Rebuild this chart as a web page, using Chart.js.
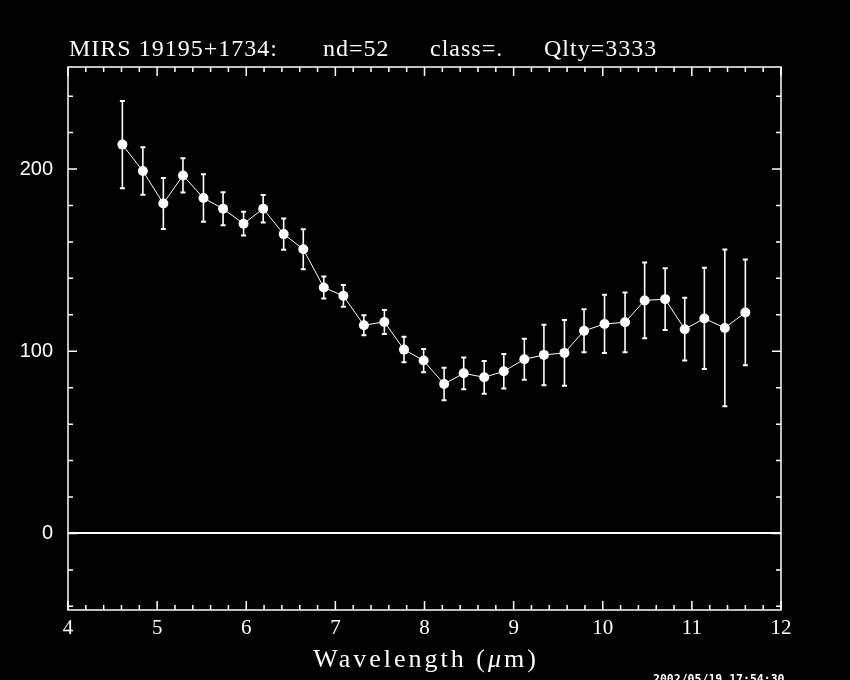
<!DOCTYPE html>
<html><head><meta charset="utf-8">
<script src="https://cdn.jsdelivr.net/npm/chart.js@4.4.1/dist/chart.umd.min.js"></script>
<style>html,body{margin:0;padding:0;background:#000;}canvas{display:block;}</style>
</head><body>
<canvas id="c" width="850" height="680"></canvas>
<script>
const wavelength = [4.61, 4.84, 5.07, 5.29, 5.52, 5.74, 5.97, 6.19, 6.42, 6.64, 6.87, 7.09, 7.32, 7.55, 7.77, 7.99,
                    8.22, 8.44, 8.67, 8.89, 9.12, 9.34, 9.57, 9.79, 10.02, 10.25, 10.47, 10.70, 10.92, 11.14, 11.37, 11.60];
const flux = [213.4, 198.9, 181.1, 196.5, 184.1, 178.2, 170.0, 178.2, 164.3, 156.0, 135.0, 130.4, 114.3, 116.1, 100.9, 94.9,
              82.0, 87.9, 85.7, 89.0, 95.6, 98.0, 99.1, 111.2, 115.0, 115.9, 127.9, 128.6, 112.1, 118.0, 112.8, 121.3];
const fluxErr = [24.0, 13.0, 14.0, 9.4, 13.0, 9.0, 6.5, 7.5, 8.6, 11.0, 6.0, 6.0, 5.5, 6.6, 7.0, 6.4,
                 8.9, 8.7, 9.0, 9.5, 11.3, 16.6, 18.0, 11.8, 16.0, 16.4, 20.8, 16.9, 17.2, 27.8, 43.0, 29.0];
const xTickLabels = [4, 5, 6, 7, 8, 9, 10, 11, 12];
const yTickLabels = [0, 100, 200];
const titleParts = ["MIRS 19195+1734:", "nd=52", "class=.", "Qlty=3333"];
const xTitle = ["Wavelength (", "\u03bc", "m)"];
const stamp = "2002/05/19 17:54:30";

const X_MIN = 4, X_MAX = 12, Y_MIN = -42, Y_MAX = 256;

const deco = {
  id: 'deco',
  beforeDraw(chart) {
    const c = chart.ctx;
    c.save(); c.fillStyle = '#000'; c.fillRect(0, 0, chart.width, chart.height); c.restore();
  },
  beforeDatasetsDraw(chart) {
    const c = chart.ctx, xs = chart.scales.x, ys = chart.scales.y;
    c.save();
    c.strokeStyle = '#fff';
    for (let i = 0; i < wavelength.length; i++) {
      const px = xs.getPixelForValue(wavelength[i]);
      const top = ys.getPixelForValue(flux[i] + fluxErr[i]);
      const bot = ys.getPixelForValue(flux[i] - fluxErr[i]);
      c.lineWidth = 1.6;
      c.beginPath(); c.moveTo(px, top); c.lineTo(px, bot); c.stroke();
      c.lineWidth = 2;
      c.beginPath();
      c.moveTo(px - 2.5, top); c.lineTo(px + 2.5, top);
      c.moveTo(px - 2.5, bot); c.lineTo(px + 2.5, bot);
      c.stroke();
    }
    c.restore();
  },
  afterDraw(chart) {
    const c = chart.ctx, a = chart.chartArea, xs = chart.scales.x, ys = chart.scales.y;
    c.save();
    c.strokeStyle = '#fff';
    c.lineWidth = 1.5;
    c.strokeRect(a.left, a.top, a.right - a.left, a.bottom - a.top);
    // inward ticks on all four sides
    c.beginPath();
    for (let k = 0; k <= Math.round((X_MAX - X_MIN) / 0.2); k++) {
      const v = X_MIN + k * 0.2;
      const major = Math.abs(v - Math.round(v)) < 1e-6;
      const L = major ? 9 : 5;
      const px = xs.getPixelForValue(v);
      c.moveTo(px, a.bottom); c.lineTo(px, a.bottom - L);
      c.moveTo(px, a.top); c.lineTo(px, a.top + L);
    }
    for (let v = -40; v <= Y_MAX; v += 20) {
      const major = v % 100 === 0;
      const L = major ? 9 : 5;
      const py = ys.getPixelForValue(v);
      c.moveTo(a.left, py); c.lineTo(a.left + L, py);
      c.moveTo(a.right, py); c.lineTo(a.right - L, py);
    }
    c.stroke();
    // title
    c.fillStyle = '#fff';
    c.textBaseline = 'alphabetic';
    c.textAlign = 'left';
    c.font = '24px "Liberation Serif"';
    c.letterSpacing = '1px';
    const tx = [69, 323, 430, 544];
    titleParts.forEach((t, i) => c.fillText(t, tx[i], 56));
    // x axis title
    c.letterSpacing = '3px';
    const fN = '26px "Liberation Serif"', fI = 'italic 26px "Liberation Serif"';
    c.font = fN; const w0 = c.measureText(xTitle[0]).width, w2 = c.measureText(xTitle[2]).width;
    c.font = fI; const w1 = c.measureText(xTitle[1]).width;
    let sx = (a.left + a.right) / 2 - (w0 + w1 + w2 - 3) / 2;
    c.font = fN; c.fillText(xTitle[0], sx, 667); sx += w0;
    c.font = fI; c.fillText(xTitle[1], sx, 667); sx += w1;
    c.font = fN; c.fillText(xTitle[2], sx, 667);
    // timestamp
    c.letterSpacing = '0px';
    c.font = 'bold 11.5px "DejaVu Sans Mono"';
    c.textBaseline = 'top';
    c.fillText(stamp, 653, 674);
    c.restore();
  }
};

new Chart(document.getElementById('c'), {
  type: 'line',
  data: {
    datasets: [{
      data: wavelength.map((x, i) => ({ x: x, y: flux[i] })),
      borderColor: '#fff',
      borderWidth: 1,
      backgroundColor: '#fff',
      pointBackgroundColor: '#fff',
      pointBorderColor: '#fff',
      pointRadius: 5,
      pointBorderWidth: 0,
      tension: 0,
      fill: false
    }]
  },
  options: {
    responsive: false,
    animation: false,
    devicePixelRatio: 1,
    layout: { padding: { top: 67, right: 69, left: 0, bottom: 0 } },
    plugins: { legend: { display: false }, tooltip: { enabled: false }, title: { display: false } },
    scales: {
      x: {
        type: 'linear', min: X_MIN, max: X_MAX,
        afterFit: s => { s.height = 70; },
        afterBuildTicks: s => { s.ticks = xTickLabels.map(v => ({ value: v })); },
        grid: { display: false, drawTicks: false },
        border: { display: false },
        ticks: { color: '#fff', padding: 6, maxRotation: 0, autoSkip: false,
                 font: { family: '"Liberation Serif"', size: 21 } }
      },
      y: {
        type: 'linear', min: Y_MIN, max: Y_MAX,
        afterFit: s => { s.width = 68; },
        afterBuildTicks: s => { s.ticks = yTickLabels.map(v => ({ value: v })); },
        grid: { display: true, drawTicks: false, lineWidth: 2,
                color: ctx => (ctx.tick && ctx.tick.value === 0) ? '#fff' : 'rgba(0,0,0,0)' },
        border: { display: false },
        ticks: { color: '#fff', padding: 15, autoSkip: false,
                 font: { family: '"Liberation Sans"', size: 20 } }
      }
    }
  },
  plugins: [deco]
});
</script>
</body></html>
